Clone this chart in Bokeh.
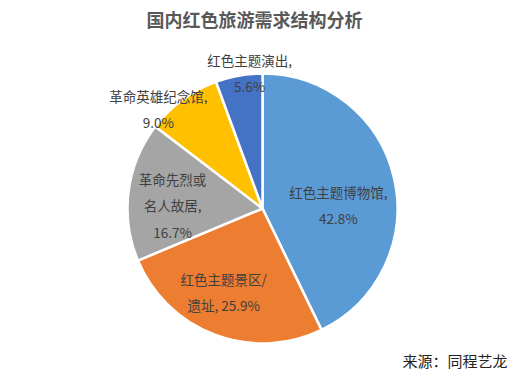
import math
from bokeh.plotting import figure
from bokeh.models import Range1d, ColumnDataSource
from bokeh.core.properties import value
from bokeh.embed import file_html
from bokeh.resources import INLINE

# ---- data ----
title_text = "国内红色旅游需求结构分析"
source_text = "来源：同程艺龙"
categories = ["红色主题博物馆", "红色主题景区/\n遗址", "革命先烈或\n名人故居", "革命英雄纪念馆", "红色主题演出"]
shares = [42.8, 25.9, 16.7, 9.0, 5.6]
colors = ["#5B9BD5", "#ED7D31", "#A5A5A5", "#FFC000", "#4472C4"]
label_seps = ["\n", " ", "\n", "\n", "\n"]

# ---- layout (data space == screen pixels, y up) ----
W, H = 524, 372
FONT = "Noto Sans CJK SC"
cx, cy = 262, H - 208        # pie centre
R = 135
label_r = [76, 92, 90, 144, 136]
label_nudge = [10.4, 4.3, -5.4, -9.9, 4.6]   # degrees relative to mid-angle

total = sum(shares)
starts, ends, mids = [], [], []
cum = 0.0
for v in shares:
    a0 = math.pi / 2 - cum / total * 2 * math.pi
    cum += v
    a1 = math.pi / 2 - cum / total * 2 * math.pi
    starts.append(a0)
    ends.append(a1)
    mids.append((cum - v / 2) / total * 360.0)

src = ColumnDataSource(dict(start=starts, end=ends, color=colors))

p = figure(width=W, height=H, output_backend="svg", toolbar_location=None,
           x_range=Range1d(0, W), y_range=Range1d(0, H), min_border=0)
p.axis.visible = False
p.grid.visible = False
p.outline_line_color = None
p.background_fill_color = "white"
p.border_fill_color = "white"

p.wedge(x=cx, y=cy, radius=R, start_angle="start", end_angle="end", direction="clock",
        fill_color="color", line_color="white", line_width=2.5, source=src)

lx, ly, lt = [], [], []
for cat, v, sep, m, r, n in zip(categories, shares, label_seps, mids, label_r, label_nudge):
    b = math.radians(m + n)
    lx.append(cx + r * math.sin(b))
    ly.append(cy + r * math.cos(b))
    lt.append(f"{cat},{sep}{v:.1f}%")

p.text(x=lx, y=ly, text=lt, text_align="center", text_baseline="middle",
       text_font=value(FONT), text_font_size="13.5px", text_color="#404040",
       text_line_height=1.32)

p.text(x=[254], y=[H - 18], text=[title_text], text_align="center", text_baseline="middle",
       text_font=value(FONT), text_font_size="18px", text_font_style="bold", text_color="#595959")

p.text(x=[507], y=[H - 360], text=[source_text], text_align="right", text_baseline="middle",
       text_font=value(FONT), text_font_size="15px", text_color="#222222")

open("out.html", "w").write(file_html(p, INLINE))
